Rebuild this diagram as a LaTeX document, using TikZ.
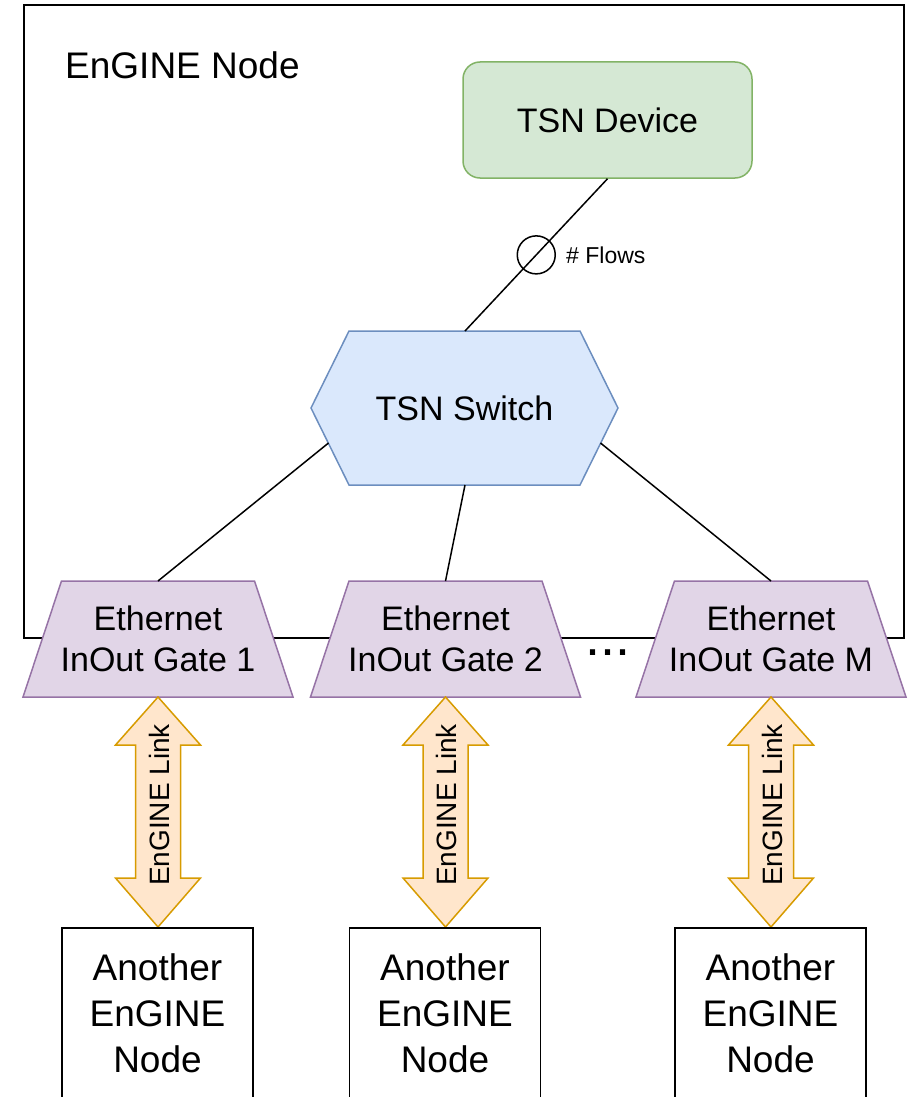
\documentclass[tikz,border=0pt]{standalone}
\usepackage{fontspec}
\setmainfont{Liberation Sans}
\definecolor{devfill}{HTML}{D5E8D4}
\definecolor{devstroke}{HTML}{82B366}
\definecolor{swfill}{HTML}{DAE8FC}
\definecolor{swstroke}{HTML}{6C8EBF}
\definecolor{gatefill}{HTML}{E1D5E7}
\definecolor{gatestroke}{HTML}{9673A6}
\definecolor{linkfill}{HTML}{FFE6CC}
\definecolor{linkstroke}{HTML}{D79B00}
\begin{document}
\begin{tikzpicture}[x=1pt,y=-1pt,
  every node/.style={inner sep=0pt},
  bigtext/.style={font=\fontsize{34}{41}\selectfont, align=center},
  titletext/.style={font=\fontsize{37}{44}\selectfont},
  smalltext/.style={font=\fontsize{23}{27}\selectfont},
  linktext/.style={font=\fontsize{28}{33}\selectfont},
  frame/.style={draw=black, line width=2pt},
  devbox/.style={draw=devstroke, fill=devfill, line width=1.5pt, rounded corners=17pt,
                 minimum width=289pt, minimum height=116pt, bigtext},
  hexshape/.style={draw=swstroke, fill=swfill, line width=1.5pt, line join=miter},
  gateshape/.style={draw=gatestroke, fill=gatefill, line width=1.5pt, line join=miter},
  linkshape/.style={draw=linkstroke, fill=linkfill, line width=1.5pt, line join=miter},
  peerbox/.style={draw=black, fill=white, line width=1.5pt, minimum width=191pt,
                  minimum height=172pt, font=\fontsize{37}{46}\selectfont, align=center},
  wire/.style={draw=black, line width=1.5pt},
  flowmark/.style={circle, draw=black, line width=1.5pt, minimum size=38pt}
]
\useasboundingbox (0,0) rectangle (909,1097);
\clip (0,0) rectangle (909,1097);

% outer EnGINE node frame
\draw[frame] (24,5) rectangle (904,638);
\node[titletext, anchor=west] (title) at (65,65.5) {EnGINE Node};

% TSN device
\node[devbox] (dev) at (607.5,120) {TSN Device};

% TSN switch (elongated hexagon)
\draw[hexshape] (311,408) -- (349,331) -- (580,331) -- (618,408) -- (580,485) -- (349,485) -- cycle;
\node[bigtext] (sw) at (464.5,408) {TSN Switch};
\coordinate (swtop) at (465,331);
\coordinate (swleft) at (328.5,443);
\coordinate (swbot) at (465,485);
\coordinate (swright) at (600.5,443);

% device to switch, with flow counter
\draw[wire] (dev.south) -- node[flowmark] (fm) {} (swtop);
\node[smalltext, anchor=west] (flows) at ([xshift=10pt]fm.east) {\# Flows};

% gates, links and neighbouring nodes
\foreach \name/\cx/\lab in {g1/158/1, g2/445.5/2, gM/771/M}{
  \draw[gateshape] (\cx-135,697) -- (\cx-96.5,581) -- (\cx+96.5,581) -- (\cx+135,697) -- cycle;
  \node[bigtext] (\name) at (\cx,639) {Ethernet\\InOut Gate \lab};
  \coordinate (\name top) at (\cx,581);
  \draw[linkshape] (\cx,697) -- (\cx+42.5,745) -- (\cx+22.5,745) -- (\cx+22.5,878)
        -- (\cx+42.5,878) -- (\cx,927) -- (\cx-42.5,878) -- (\cx-22.5,878)
        -- (\cx-22.5,745) -- (\cx-42.5,745) -- cycle;
  \node[linktext, rotate=90] (\name link) at (\cx+1,805) {EnGINE Link};
  \node[peerbox, anchor=north] (\name peer) at (\cx-0.5,927) {Another\\EnGINE\\Node};
}

% switch to gates
\draw[wire] (swleft) -- (g1top);
\draw[wire] (swbot) -- (g2top);
\draw[wire] (swright) -- (gMtop);

% ellipsis between gate 2 and gate M
\node[font=\fontsize{54}{60}\selectfont, anchor=base] (dots) at (607.5,655) {...};
\end{tikzpicture}
\end{document}
